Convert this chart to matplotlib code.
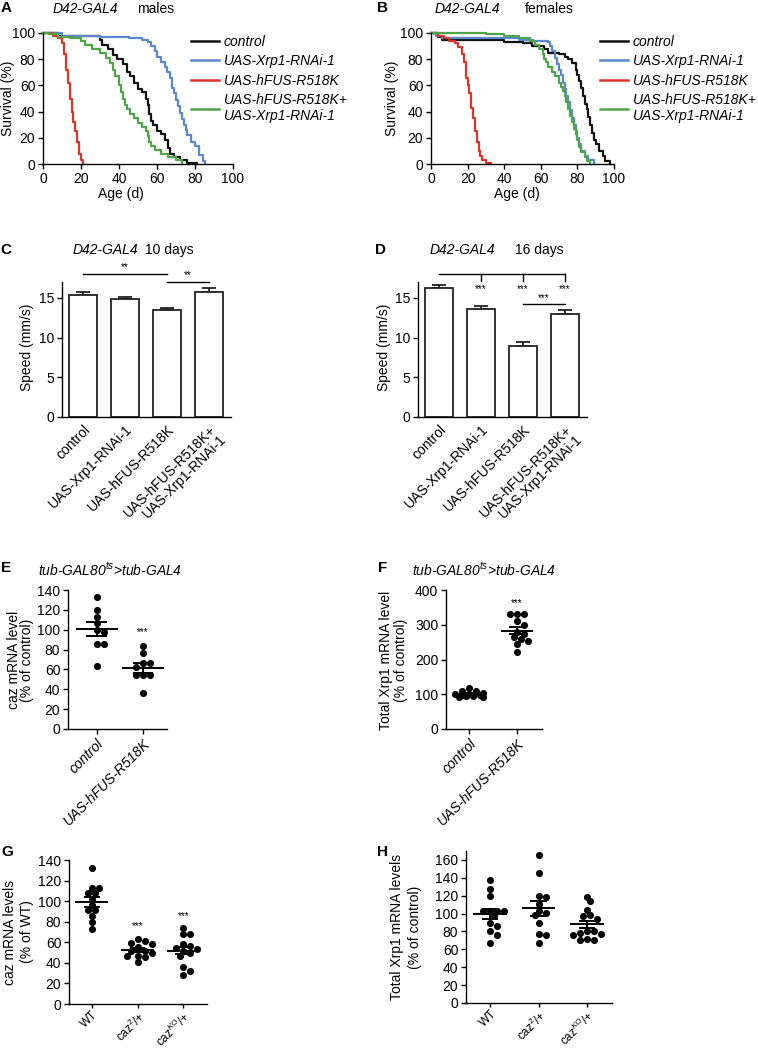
import numpy as np
import matplotlib
matplotlib.use('Agg')
import matplotlib.pyplot as plt

plt.rcParams['font.family'] = ['Liberation Sans', 'DejaVu Sans']
plt.rcParams['font.size'] = 10
plt.rcParams['mathtext.fontset'] = 'custom'
plt.rcParams['mathtext.rm'] = 'Liberation Sans'
plt.rcParams['mathtext.it'] = 'Liberation Sans:italic'
plt.rcParams['axes.linewidth'] = 1.0
plt.rcParams['xtick.major.width'] = 1.0
plt.rcParams['ytick.major.width'] = 1.0
plt.rcParams['xtick.major.size'] = 3.5
plt.rcParams['ytick.major.size'] = 3.5
plt.rcParams['xtick.major.pad'] = 2
plt.rcParams['ytick.major.pad'] = 2

## survival data (day, % alive), step curves
# A: males
a_ctrl_t = [0, 8, 30, 31, 34, 37, 39, 42, 44, 46, 48, 50, 52, 54, 55, 56, 57, 58, 60, 62, 64, 66, 67, 69, 72, 76, 81]
a_ctrl_s = [100, 98, 95, 91, 88, 83, 80, 76, 70, 67, 62, 57, 55, 50, 45, 38, 33, 30, 25, 23, 18, 12, 8, 5, 3, 1, 0]
a_xrp_t = [0, 10, 30, 45, 52, 55, 57, 59, 60, 62, 64, 65, 67, 68, 69, 70, 71, 72, 73, 74, 75, 76, 78, 80, 82, 84, 85]
a_xrp_s = [100, 98, 97, 96, 95, 93, 90, 86, 82, 78, 74, 70, 66, 58, 54, 49, 44, 39, 34, 30, 26, 22, 17, 14, 7, 2, 0]
a_fus_t = [0, 5, 8, 10, 11, 12, 13, 14, 15, 16, 17, 18, 19, 20, 21]
a_fus_s = [100, 98, 96, 92, 84, 72, 62, 50, 40, 32, 25, 17, 8, 3, 0]
a_both_t = [0, 3, 8, 14, 20, 22, 26, 30, 33, 35, 37, 38, 40, 41, 42, 43, 44, 46, 48, 50, 52, 54, 55, 56, 57, 59, 62, 66, 70, 73]
a_both_s = [100, 99, 97, 96, 94, 91, 88, 85, 81, 77, 72, 67, 60, 55, 50, 45, 42, 38, 35, 31, 28, 25, 21, 17, 14, 11, 8, 5, 3, 0]

# B: females
b_ctrl_t = [0, 4, 6, 40, 50, 55, 62, 64, 70, 73, 75, 77, 79, 80, 81, 82, 83, 84, 85, 86, 87, 88, 89, 90, 92, 94, 95, 98]
b_ctrl_s = [100, 97, 95, 93, 92, 90, 88, 85, 84, 82, 80, 77, 72, 68, 63, 58, 52, 46, 42, 36, 30, 24, 18, 15, 10, 6, 2, 0]
b_xrp_t = [0, 3, 6, 48, 56, 64, 65, 66, 68, 69, 70, 71, 72, 73, 74, 75, 76, 77, 78, 79, 80, 81, 82, 84, 86, 89]
b_xrp_s = [100, 98, 96, 95, 94, 93, 90, 86, 81, 76, 72, 68, 62, 57, 52, 47, 41, 35, 30, 25, 20, 15, 10, 6, 3, 0]
b_fus_t = [0, 4, 7, 10, 13, 15, 17, 18, 19, 20, 21, 22, 23, 24, 25, 26, 27, 28, 30, 33]
b_fus_s = [100, 98, 96, 94, 92, 89, 84, 78, 66, 60, 54, 43, 35, 25, 17, 10, 6, 3, 1, 0]
b_both_t = [0, 30, 40, 48, 54, 57, 59, 61, 62, 63, 64, 66, 68, 70, 71, 72, 73, 74, 75, 76, 77, 78, 79, 80, 81, 82, 84, 85, 87]
b_both_s = [100, 99, 98, 96, 94, 91, 88, 84, 80, 78, 74, 70, 67, 62, 59, 56, 52, 47, 42, 37, 32, 27, 23, 18, 13, 9, 5, 2, 0]

surv_labels = ['control', 'UAS-Xrp1-RNAi-1', 'UAS-hFUS-R518K', 'UAS-hFUS-R518K+\nUAS-Xrp1-RNAi-1']
surv_colors = ['#111111', '#5b88cc', '#d9352a', '#4da548']

## speed data (mm/s), mean and SEM
bar_labels = ['control', 'UAS-Xrp1-RNAi-1', 'UAS-hFUS-R518K', 'UAS-hFUS-R518K+\nUAS-Xrp1-RNAi-1']
c_mean = [15.4, 14.9, 13.5, 15.8]
c_sem = [0.3, 0.2, 0.25, 0.45]
d_mean = [16.2, 13.55, 9.0, 13.0]
d_sem = [0.4, 0.45, 0.5, 0.45]

## qPCR data (% of control / WT)
e_labels = ['control', 'UAS-hFUS-R518K']
e_ctrl = [133, 120, 113, 107, 100, 98, 86, 86, 63]
e_fus = [84, 77, 66, 66, 62, 54, 54, 54, 36]
f_ctrl = [110, 118, 110, 104, 100, 97, 95, 93, 92, 96, 99, 102]
f_fus = [331, 331, 331, 311, 300, 280, 274, 264, 258, 252, 245, 222]
g_labels = ['WT', 'caz$^{2}$/+', 'caz$^{KO}$/+']
g_wt = [132, 113, 113, 108, 108, 102, 96, 91, 91, 86, 80, 73]
g_caz2 = [63, 61, 59, 58, 55, 52, 52, 50, 47, 47, 46, 41]
g_cazko = [74, 68, 68, 58, 56, 54, 53, 52, 50, 47, 36, 32, 28]
h_wt = [138, 128, 120, 103, 103, 103, 103, 97, 90, 86, 80, 76, 67]
h_caz2 = [166, 145, 120, 119, 111, 103, 101, 98, 90, 77, 76, 67]
h_cazko = [119, 114, 104, 98, 97, 94, 81, 80, 78, 77, 76, 72, 70, 70]

##
W, H = 758, 1052
fig = plt.figure(figsize=(W / 100, H / 100), dpi=100)


def fx(x):
    return x / W


def fy(y):
    return 1 - y / H


def box(l, t, r, b):
    return [fx(l), fy(b), (r - l) / W, (b - t) / H]


def clean(ax):
    ax.spines['top'].set_visible(False)
    ax.spines['right'].set_visible(False)
    ax.tick_params(direction='out', labelsize=10)


def swarm(ax, xc, vals, d=7.0, maxoff=15.0):
    # spread points sideways so dots of similar value do not pile up
    pix = ax.transData.transform(np.column_stack([np.full(len(vals), float(xc)), vals]))
    inv = ax.transData.inverted()
    placed = []
    xs = np.zeros(len(vals))
    steps = [0, 1, -1, 2, -2, 3, -3, 4, -4, 5, -5, 6, -6]
    for k in np.argsort(-np.asarray(vals, dtype=float), kind='stable'):
        px, py = pix[k]
        best, best_gap = px, -1.0
        for step in steps:
            cx = px + step * d * 0.5
            if abs(cx - px) > maxoff:
                continue
            gap = min([np.hypot(cx - qx, py - qy) for qx, qy in placed] + [99.0])
            if gap >= d * 0.8:
                best = cx
                break
            if gap > best_gap:
                best, best_gap = cx, gap
        placed.append((best, py))
        xs[k] = inv.transform((best, py))[0]
    return xs


def dots(ax, groups, half, cap):
    for i, vals in enumerate(groups):
        xs = swarm(ax, i, vals)
        ax.scatter(xs, vals, s=26, c='k', linewidths=0, zorder=3, clip_on=False)
        m = np.mean(vals)
        se = np.std(vals, ddof=1) / np.sqrt(len(vals))
        ax.plot([i - half, i + half], [m, m], color='k', lw=1.4, zorder=4)
        ax.plot([i, i], [m - se, m + se], color='k', lw=1.4, zorder=4)
        ax.plot([i - cap, i + cap], [m + se, m + se], color='k', lw=1.4, zorder=4)
        ax.plot([i - cap, i + cap], [m - se, m - se], color='k', lw=1.4, zorder=4)


def rot_labels(ax, labels, italic=False, size=10):
    ax.set_xticks(range(len(labels)))
    ax.set_xticklabels(labels, rotation=45, ha='right', va='top', rotation_mode='anchor',
                       style='italic' if italic else 'normal', linespacing=1.0, fontsize=size)


##
axA = fig.add_axes(box(43, 33, 233, 164))
axB = fig.add_axes(box(431, 33, 614, 164))
for ax, curves, lx in [(axA, [(a_ctrl_t, a_ctrl_s), (a_xrp_t, a_xrp_s), (a_fus_t, a_fus_s), (a_both_t, a_both_s)], 191),
                       (axB, [(b_ctrl_t, b_ctrl_s), (b_xrp_t, b_xrp_s), (b_fus_t, b_fus_s), (b_both_t, b_both_s)], 600)]:
    clean(ax)
    for (t, s), col, lab in zip(curves, surv_colors, surv_labels):
        ax.step(t, s, where='post', color=col, lw=1.6, label=lab, clip_on=False)
    ax.set_xlim(0, 100)
    ax.set_ylim(0, 100)
    ax.set_xticks(range(0, 101, 20))
    ax.set_yticks(range(0, 101, 20))
    leg = ax.legend(loc='upper left', bbox_to_anchor=(fx(lx), fy(35)), bbox_transform=fig.transFigure,
                    frameon=False, prop={'style': 'italic', 'size': 10}, handlelength=2.0,
                    handletextpad=0.35, labelspacing=0.38, borderpad=0, borderaxespad=0)
    for line in leg.get_lines():
        line.set_linewidth(1.8)

fig.text(fx(53), fy(9), 'D42-GAL4', style='italic', va='center', fontsize=10)
fig.text(fx(137), fy(9), 'males', va='center', fontsize=10)
fig.text(fx(435), fy(9), 'D42-GAL4', style='italic', va='center', fontsize=10)
fig.text(fx(525), fy(9), 'females', va='center', fontsize=10)
fig.text(fx(8), fy(98), 'Survival (%)', rotation=90, ha='center', va='center')
fig.text(fx(392), fy(98), 'Survival (%)', rotation=90, ha='center', va='center')
fig.text(fx(121), fy(194), 'Age (d)', ha='center', va='center')
fig.text(fx(517), fy(194), 'Age (d)', ha='center', va='center')

##
axC = fig.add_axes(box(62, 282, 231, 417))
axD = fig.add_axes(box(418, 282, 587, 417))
for ax, means, sems in [(axC, c_mean, c_sem), (axD, d_mean, d_sem)]:
    clean(ax)
    x = np.arange(len(means))
    ax.bar(x, means, width=0.68, color='white', edgecolor='#222222', linewidth=1.3, zorder=2)
    ax.errorbar(x, means, yerr=[np.zeros(len(sems)), sems], fmt='none', ecolor='#222222',
                elinewidth=1.3, capsize=5, capthick=1.3, zorder=1)
    ax.set_xlim(-0.5, 3.52)
    ax.set_ylim(0, 17)
    ax.set_yticks([0, 5, 10, 15])
    rot_labels(ax, bar_labels)
    ax.tick_params(axis='x', length=0, pad=4)

# significance marks, panel C
axC.plot([0, 2], [18.0, 18.0], color='k', lw=1.0, clip_on=False)
axC.text(1, 18.2, '**', ha='center', va='bottom', fontsize=7)
axC.plot([2, 3], [17.0, 17.0], color='k', lw=1.0, clip_on=False)
axC.text(2.5, 17.2, '**', ha='center', va='bottom', fontsize=7)
# significance marks, panel D
axD.plot([0, 3], [18.0, 18.0], color='k', lw=1.0, clip_on=False)
for xi in [1, 2, 3]:
    axD.plot([xi, xi], [18.0, 17.1], color='k', lw=1.0, clip_on=False)
    axD.text(xi, 16.1, '***', ha='center', va='center', fontsize=7)
axD.plot([2, 3], [14.2, 14.2], color='k', lw=1.0)
axD.text(2.5, 14.4, '***', ha='center', va='bottom', fontsize=7)

fig.text(fx(73), fy(250), 'D42-GAL4', style='italic', va='center')
fig.text(fx(145), fy(250), '10 days', va='center')
fig.text(fx(430), fy(250), 'D42-GAL4', style='italic', va='center')
fig.text(fx(515), fy(250), '16 days', va='center')
fig.text(fx(27), fy(347), 'Speed (mm/s)', rotation=90, ha='center', va='center')
fig.text(fx(384), fy(347), 'Speed (mm/s)', rotation=90, ha='center', va='center')

##
axE = fig.add_axes(box(68, 590, 167, 729))
axF = fig.add_axes(box(446, 590, 542, 729))
for ax, top, step in [(axE, 140, 20), (axF, 400, 100)]:
    clean(ax)
    ax.set_ylim(0, top)
    ax.set_yticks(range(0, top + 1, step))
axE.set_xlim(-0.62, 1.52)
axF.set_xlim(-0.48, 1.52)
dots(axE, [e_ctrl, e_fus], 0.43, 0.2)
dots(axF, [f_ctrl, f_fus], 0.32, 0.15)
for ax in [axE, axF]:
    rot_labels(ax, e_labels, italic=True)
axE.text(1, 98, '***', ha='center', va='center', fontsize=7)
axF.text(1, 362, '***', ha='center', va='center', fontsize=7)

fig.text(fx(38), fy(570), 'tub-GAL80$^{ts}$>tub-GAL4', style='italic', va='center')
fig.text(fx(412), fy(570), 'tub-GAL80$^{ts}$>tub-GAL4', style='italic', va='center')
fig.text(fx(14), fy(660), 'caz mRNA level', rotation=90, ha='center', va='center')
fig.text(fx(27), fy(660), '(% of control)', rotation=90, ha='center', va='center')
fig.text(fx(386), fy(660), 'Total Xrp1 mRNA level', rotation=90, ha='center', va='center')
fig.text(fx(401), fy(660), '(% of control)', rotation=90, ha='center', va='center')

##
axG = fig.add_axes(box(69, 860, 207, 1004))
axH = fig.add_axes(box(466, 851, 612, 1003))
clean(axG)
clean(axH)
axG.set_xlim(-0.5, 2.52)
axG.set_ylim(0, 140)
axG.set_yticks(range(0, 141, 20))
axH.set_xlim(-0.5, 2.52)
axH.set_ylim(0, 170)
axH.set_yticks(range(0, 161, 20))
dots(axG, [g_wt, g_caz2, g_cazko], 0.34, 0.15)
dots(axH, [h_wt, h_caz2, h_cazko], 0.33, 0.15)
for ax in [axG, axH]:
    rot_labels(ax, g_labels, size=8.5)
    ax.tick_params(axis='x', pad=0.5, length=3)
axG.text(1, 76, '***', ha='center', va='center', fontsize=7)
axG.text(2, 85, '***', ha='center', va='center', fontsize=7)

fig.text(fx(10), fy(932), 'caz mRNA levels', rotation=90, ha='center', va='center')
fig.text(fx(27), fy(932), '(% of WT)', rotation=90, ha='center', va='center')
fig.text(fx(397), fy(927), 'Total Xrp1 mRNA levels', rotation=90, ha='center', va='center')
fig.text(fx(415), fy(927), '(% of control)', rotation=90, ha='center', va='center')

## panel letters
for lab, x, y in [('A', 6, 8), ('B', 383, 8), ('C', 6, 250), ('D', 381, 250),
                  ('E', 6, 568), ('F', 383, 568), ('G', 7, 852), ('H', 383, 852)]:
    fig.text(fx(x), fy(y), lab, fontsize=11, fontweight='bold', ha='center', va='center')

fig.savefig('out.png', dpi=100)
